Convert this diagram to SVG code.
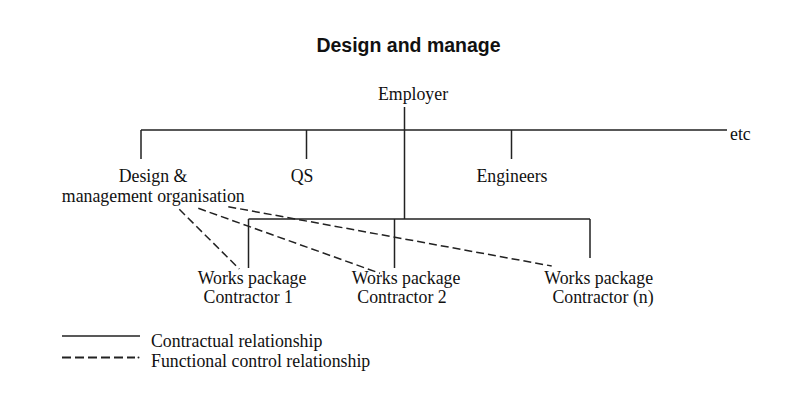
<svg xmlns="http://www.w3.org/2000/svg" width="810" height="400" viewBox="0 0 810 400">
<style>
.t{font-family:"Liberation Serif","Times New Roman",serif;font-size:17.8px;fill:#111}
.m{text-anchor:middle}
.s{stroke:#222;stroke-width:1.5;fill:none}
.d{stroke:#222;stroke-width:1.5;fill:none;stroke-dasharray:8 4}
</style>
<rect width="810" height="400" fill="#fff"/>
<text x="408.5" y="51.5" style="font-family:'Liberation Sans',Arial,sans-serif;font-size:19.5px;font-weight:bold;fill:#111" text-anchor="middle">Design and manage</text>
<g id="connectors">
<path class="s" d="M404.5 107V219M141 130H727M141 130V159M306.5 130V159M511.5 130V159M248.5 219H590M248.5 219V268M394.5 219V268M590 219V258"/>
<path class="d" d="M179.3 209.3L239.3 269M198.3 208.3L380 273.3M228.3 206.7L551.7 266"/>
</g>
<g id="employer"><text class="t m" x="413" y="100">Employer</text></g>
<g id="etc"><text class="t" x="730" y="140">etc</text></g>
<g id="dmo"><text class="t m" x="153" y="181.7">Design &amp;</text><text class="t m" x="153.3" y="201.7">management organisation</text></g>
<g id="qs"><text class="t m" x="302" y="181.7">QS</text></g>
<g id="engineers"><text class="t m" x="512" y="181.7">Engineers</text></g>
<g id="wp1"><text class="t m" x="252" y="284.3">Works package</text><text class="t m" x="248.3" y="303">Contractor 1</text></g>
<g id="wp2"><text class="t m" x="406" y="284.3">Works package</text><text class="t m" x="402" y="303">Contractor 2</text></g>
<g id="wpn"><text class="t m" x="598.7" y="284.3">Works package</text><text class="t m" x="603" y="303">Contractor (n)</text></g>
<g id="legend">
<path class="s" d="M62 336H140"/>
<path d="M62 357.5H135" style="stroke:#222;stroke-width:1.8;fill:none;stroke-dasharray:9 4"/>
<circle cx="138.5" cy="357.5" r="1" fill="#222"/>
<text class="t" x="151" y="346.7">Contractual relationship</text>
<text class="t" x="151" y="366.7">Functional control relationship</text>
</g>
</svg>
